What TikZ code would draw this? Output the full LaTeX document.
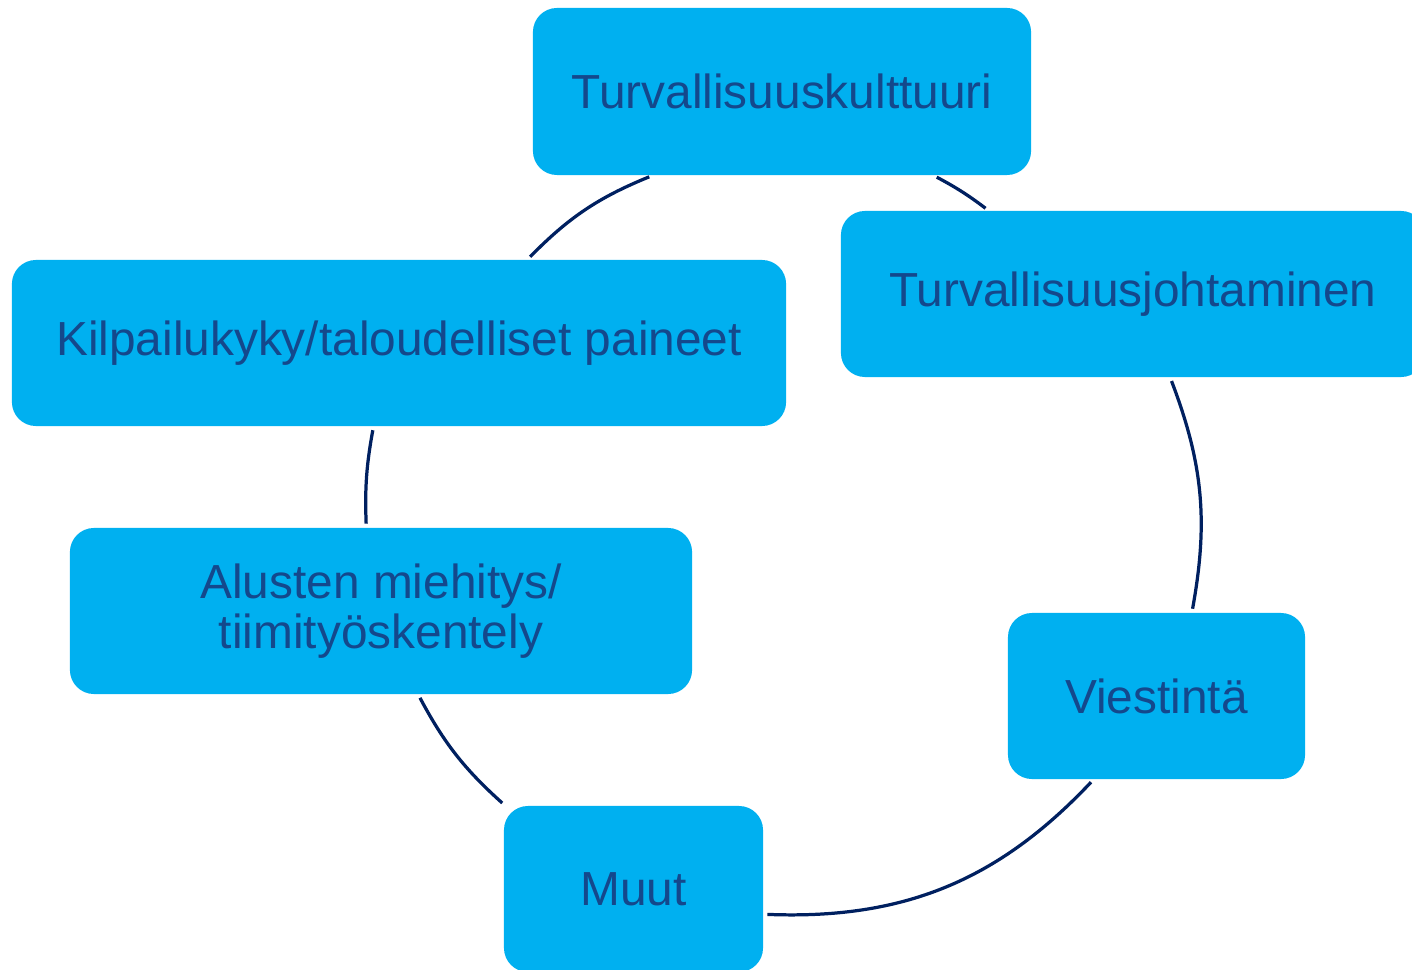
\documentclass[tikz,border=0pt]{standalone}
\usepackage{fontspec}
\setmainfont{Liberation Sans}
\definecolor{boxblue}{RGB}{0,176,240}
\definecolor{textblue}{RGB}{20,72,140}
\definecolor{linenavy}{RGB}{0,32,96}

\begin{document}
\begin{tikzpicture}[x=0.025cm, y=0.025cm,
		box/.style={fill=boxblue, rounded corners=0.6cm, minimum height=4.15cm, align=center, text=textblue, font=\fontsize{34}{36}\selectfont},
		link/.style={draw=linenavy, line width=2.3pt, shorten <=0.1cm, shorten >=0.1cm}]
	\useasboundingbox (0,0) rectangle (1412,969);
	\clip (0,0) rectangle (1412,969);
	\node (kulttuuri) at (782, 877.5) [box, minimum width=12.45cm, minimum height=4.175cm] {Turvallisuuskulttuuri};
	\node (johtaminen) at (1133, 675) [box, minimum width=14.6cm] {Turvallisuusjohtaminen};
	\node (kilpailu) at (399, 626) [box, minimum width=19.35cm] {Kilpailukyky/taloudelliset paineet};
	\node (alusten) at (381, 358) [box, minimum width=15.55cm] {Alusten miehitys/\\tiimityöskentely};
	\node (viestinta) at (1156.5, 273) [box, minimum width=7.425cm] {Viestintä};
	\node (muut) at (633.5, 80) [box, minimum width=6.475cm] {Muut};
	
	\draw[link] (kilpailu.33) to[bend left=11.7] (kulttuuri.-147.5);
	\draw[link] (kulttuuri.-29.3) to[bend left=4.6] (johtaminen.150.7);
	\draw[link] (johtaminen.-66) to[bend left=15.6] (viestinta.67.4);
	\draw[link] (viestinta.-127.4) to[bend left=24.5] (muut.-11.4);
	\draw[link] (muut.147.3) to[bend left=10] (alusten.-66);
	\draw[link] (alusten.100.2) to[bend left=6.3] (kilpailu.-107.4);
\end{tikzpicture}
\end{document}
